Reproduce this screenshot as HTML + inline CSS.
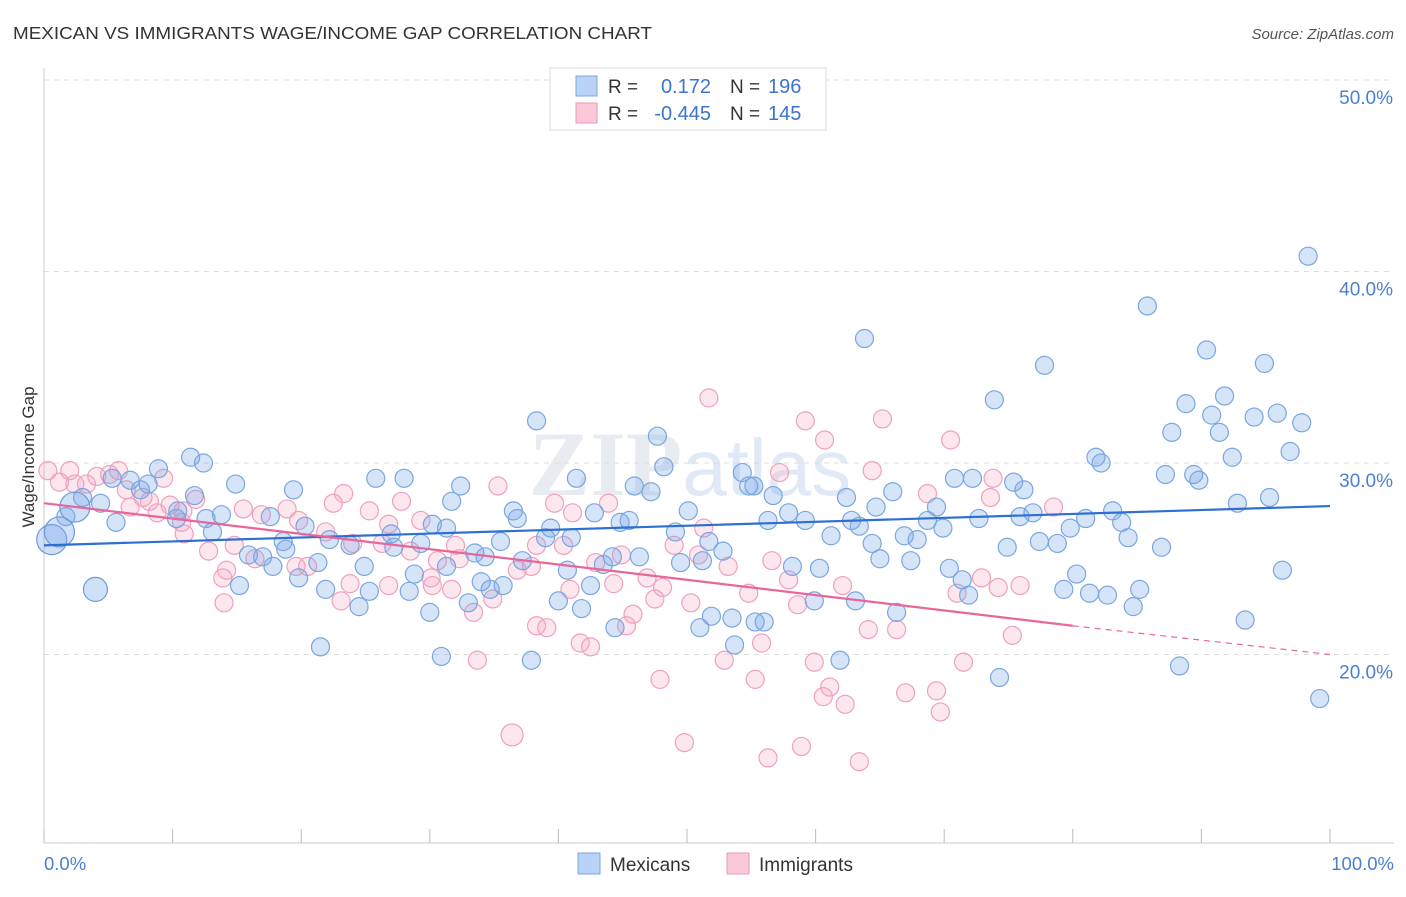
<!DOCTYPE html>
<html><head><meta charset="utf-8"><style>
body{margin:0;background:#fff;width:1406px;height:892px;overflow:hidden;font-family:"Liberation Sans",sans-serif}
</style></head><body>
<svg id="chart" width="1406" height="892" viewBox="0 0 1406 892" xmlns="http://www.w3.org/2000/svg" font-family="Liberation Sans, sans-serif">
<text x="13" y="39" font-size="17.5" fill="#333" textLength="639" lengthAdjust="spacingAndGlyphs">MEXICAN VS IMMIGRANTS WAGE/INCOME GAP CORRELATION CHART</text>
<text x="1394" y="39" font-size="15" fill="#555" text-anchor="end" font-style="italic">Source: ZipAtlas.com</text>
<text x="690" y="495" font-size="92" fill="#e8ebf0" text-anchor="middle" font-family="Liberation Serif, serif" font-weight="bold">ZIP<tspan font-family="Liberation Sans, sans-serif" font-weight="normal" font-size="80" fill="#e0e9f5">atlas</tspan></text>
<g id="grid"></g>
<g id="axes"></g>
<g id="pts"></g>
<g id="lines"></g>
<text transform="translate(34,457) rotate(-90)" font-size="17" fill="#333" text-anchor="middle">Wage/Income Gap</text>
<text x="44" y="870" font-size="18.5" fill="#4a7fd4">0.0%</text>
<text x="1394" y="870" font-size="18.5" fill="#4a7fd4" text-anchor="end">100.0%</text>
<g>
<rect x="550" y="68" width="276" height="62" fill="#fff" stroke="#ddd"/>
<rect x="576" y="76" width="21" height="20" fill="#b8d3f5" stroke="#7aa6e0"/>
<rect x="576" y="103" width="21" height="20" fill="#fbc8d8" stroke="#ee99b5"/>
<text x="608" y="93" font-size="19" fill="#333">R =</text>
<text x="711" y="93" font-size="20" fill="#3c74d0" text-anchor="end">0.172</text>
<text x="730" y="93" font-size="19" fill="#333">N =</text>
<text x="768" y="93" font-size="20" fill="#3c74d0">196</text>
<text x="608" y="120" font-size="19" fill="#333">R =</text>
<text x="711" y="120" font-size="20" fill="#3c74d0" text-anchor="end">-0.445</text>
<text x="730" y="120" font-size="19" fill="#333">N =</text>
<text x="768" y="120" font-size="20" fill="#3c74d0">145</text>
</g>
<g>
<rect x="578" y="853" width="22" height="21" fill="#b8d3f5" stroke="#7aa6e0"/>
<text x="610" y="871" font-size="19" fill="#333">Mexicans</text>
<rect x="727" y="853" width="22" height="21" fill="#fbc8d8" stroke="#ee99b5"/>
<text x="759" y="871" font-size="19" fill="#333">Immigrants</text>
</g>
</svg>
<script>
const yTicks=[20,30,40,50];
const xTicks=[0,10,20,30,40,50,60,70,80,90,100];
const mexX=[98.3,85.8,63.8,90.4,77.8,94.9,73.9,91.8,88.8,95.9,90.8,94.1,97.8,38.3,87.7,91.4,47.7,96.9,81.8,92.4,82.2,48.2,11.4,12.4,8.9,54.3,87.2,89.4,89.8,25.8,28.0,41.4,70.8,72.2,75.4,14.9,19.4,32.4,45.9,47.2,54.8,55.2,76.2,66.0,56.7,62.4,31.7,92.8,95.3,69.4,64.7,36.5,42.8,83.1,57.9,56.3,59.2,62.8,68.7,72.7,75.9,76.9,81.0,83.8,36.8,45.5,50.1,44.8,30.2,31.3,39.4,39.0,27.0,49.1,61.2,63.4,66.9,67.9,69.9,79.8,84.3,22.2,20.3,18.6,35.5,41.0,51.7,74.9,77.4,78.8,86.9,64.4,5.6,10.3,13.8,12.6,17.6,13.1,23.8,27.2,29.3,18.8,33.5,34.3,37.2,44.2,46.3,52.8,49.5,51.2,58.2,67.4,65.0,70.4,15.9,17.0,21.3,17.8,24.9,31.3,40.7,43.5,28.8,60.3,80.3,96.3,15.2,19.8,34.0,35.7,42.5,71.4,28.4,21.9,25.3,34.7,79.3,81.3,82.7,85.2,71.9,40.0,59.9,63.1,33.0,24.5,84.7,30.0,41.8,66.3,51.9,53.5,55.3,56.0,44.4,51.0,93.4,21.5,53.7,30.9,37.9,61.9,88.3,74.3,99.2,4.4,3.0,7.5,6.7,5.3,8.1,11.7,10.4,1.7];
const mexY=[40.8,38.2,36.5,35.9,35.1,35.2,33.3,33.5,33.1,32.6,32.5,32.4,32.1,32.2,31.6,31.6,31.4,30.6,30.3,30.3,30.0,29.8,30.3,30.0,29.7,29.5,29.4,29.4,29.1,29.2,29.2,29.2,29.2,29.2,29.0,28.9,28.6,28.8,28.8,28.5,28.8,28.8,28.6,28.5,28.3,28.2,28.0,27.9,28.2,27.7,27.7,27.5,27.4,27.5,27.4,27.0,27.0,27.0,27.0,27.1,27.2,27.4,27.1,26.9,27.1,27.0,27.5,26.9,26.8,26.6,26.6,26.1,26.3,26.4,26.2,26.7,26.2,26.0,26.6,26.6,26.1,26.0,26.7,25.9,25.9,26.1,25.9,25.6,25.9,25.8,25.6,25.8,26.9,27.1,27.3,27.1,27.2,26.4,25.7,25.6,25.8,25.5,25.3,25.1,24.9,25.1,25.1,25.4,24.8,24.9,24.6,24.9,25.0,24.5,25.2,25.1,24.8,24.6,24.6,24.6,24.4,24.7,24.2,24.5,24.2,24.4,23.6,24.0,23.8,23.6,23.6,23.9,23.3,23.4,23.3,23.4,23.4,23.2,23.1,23.4,23.1,22.8,22.8,22.8,22.7,22.5,22.5,22.2,22.4,22.2,22.0,21.9,21.7,21.7,21.4,21.4,21.8,20.4,20.5,19.9,19.7,19.7,19.4,18.8,17.7,27.9,28.2,28.6,29.1,29.2,28.9,28.3,27.5,27.2];
const mexBigX=[4.0,0.6,1.2,2.4];
const mexBigY=[23.4,26.0,26.4,27.7];
const immX=[51.7,59.2,65.2,60.7,70.5,64.4,57.2,73.8,35.3,68.7,73.6,78.5,23.3,27.8,39.7,43.9,25.3,22.5,41.1,15.5,16.9,18.9,19.8,26.8,51.3,29.3,21.9,24.0,26.3,28.5,32.0,32.3,38.3,40.4,49.0,50.9,44.9,12.8,14.8,16.4,19.6,20.5,14.2,30.6,37.9,42.9,56.6,53.2,36.8,30.1,13.9,23.8,26.8,30.2,31.7,40.9,44.3,46.9,48.1,57.9,62.1,72.9,75.9,74.2,71.0,54.8,14.0,23.1,33.4,34.9,47.5,50.3,58.6,45.8,45.3,38.3,39.1,64.1,66.3,75.3,41.7,42.5,55.8,33.7,52.9,59.9,71.5,47.9,55.3,61.1,67.0,69.4,60.6,62.3,69.7,36.4,49.8,58.9,56.3,63.4,0.3,1.2,2.0,2.4,3.3,4.1,5.1,6.4,7.7,8.2,6.7,8.8,10.7,9.8,9.3,11.8,10.8,10.9,5.8];
const immY=[33.4,32.2,32.3,31.2,31.2,29.6,29.5,29.2,28.8,28.4,28.2,27.7,28.4,28.0,27.9,27.9,27.5,27.9,27.4,27.6,27.3,27.6,27.0,26.8,26.6,27.0,26.4,25.8,25.8,25.4,25.7,25.0,25.7,25.7,25.7,25.2,25.2,25.4,25.7,25.0,24.6,24.6,24.4,24.9,24.6,24.8,24.9,24.6,24.4,24.0,24.0,23.7,23.6,23.6,23.4,23.4,23.7,24.0,23.5,23.9,23.6,24.0,23.6,23.5,23.2,23.2,22.7,22.8,22.2,22.9,22.9,22.7,22.6,22.1,21.5,21.5,21.4,21.3,21.3,21.0,20.6,20.4,20.6,19.7,19.7,19.6,19.6,18.7,18.7,18.3,18.0,18.1,17.8,17.4,17.0,15.8,15.4,15.2,14.6,14.4,29.6,29.0,29.6,28.9,28.9,29.3,29.4,28.6,28.2,28.0,27.7,27.4,26.9,27.8,29.2,28.1,27.5,26.3,29.6];
const mexTrend=[25.7,27.75];
const immTrend=[27.9,21.5,20.0];
const immTrendX=[0,80,100];

const NS='http://www.w3.org/2000/svg';
const X0=44,X1=1330,Y50=80,PX=19.15;
function sx(p){return X0+(X1-X0)*p/100;}
function sy(v){return Y50+(50-v)*PX;}
function mk(tag,attrs,parent){const e=document.createElementNS(NS,tag);for(const k in attrs)e.setAttribute(k,attrs[k]);parent.appendChild(e);return e;}
const grid=document.getElementById('grid'),axes=document.getElementById('axes'),pts=document.getElementById('pts'),lines=document.getElementById('lines');
yTicks.forEach(t=>{
  const l=mk('line',{x1:X0,x2:1394,y1:sy(t),y2:sy(t),stroke:'#dcdcdc','stroke-dasharray':'5,5'},grid);
  
  
  const tx=mk('text',{x:1393,y:sy(t)+24,'font-size':19,fill:'#4a7fd4','text-anchor':'end'},grid);
  tx.textContent=t.toFixed(1)+'%';
  
  
});
const ax=mk('line',{x1:X0,x2:X0,y1:68,y2:843,stroke:'#ccc'},axes);


const bx=mk('line',{x1:X0,x2:1394,y1:843,y2:843,stroke:'#ccc'},axes);


xTicks.forEach(t=>{
  const l=mk('line',{x1:sx(t),x2:sx(t),y1:829,y2:843,stroke:'#bbb'},axes);
  
  
});
function dot(x,y,r,fill,stroke,name){
  const c=mk('circle',{cx:sx(x),cy:sy(y),r:r,fill:fill,stroke:stroke,'stroke-width':1.2},pts);
  
  
}
immX.forEach((x,i)=>dot(x,immY[i],i===95?11:9,'rgba(246,170,196,0.28)','#efa0bb','immigrants-point'));
mexX.forEach((x,i)=>dot(x,mexY[i],9,'rgba(120,165,232,0.3)','#7aa6e0','mexicans-point'));
mexBigX.forEach((x,i)=>dot(x,mexBigY[i],i===0?12:15,'rgba(120,165,232,0.35)','#6d9bd9','mexicans-point-large'));
const bl=mk('line',{x1:sx(0),y1:sy(mexTrend[0]),x2:sx(100),y2:sy(mexTrend[1]),stroke:'#2e6fd1','stroke-width':2.2},lines);


const pl=mk('line',{x1:sx(immTrendX[0]),y1:sy(immTrend[0]),x2:sx(immTrendX[1]),y2:sy(immTrend[1]),stroke:'#e8669a','stroke-width':2.2},lines);


const pd=mk('line',{x1:sx(immTrendX[1]),y1:sy(immTrend[1]),x2:sx(immTrendX[2]),y2:sy(immTrend[2]),stroke:'#e8669a','stroke-width':1.2,'stroke-dasharray':'6,5'},lines);


</script>
</body></html>
